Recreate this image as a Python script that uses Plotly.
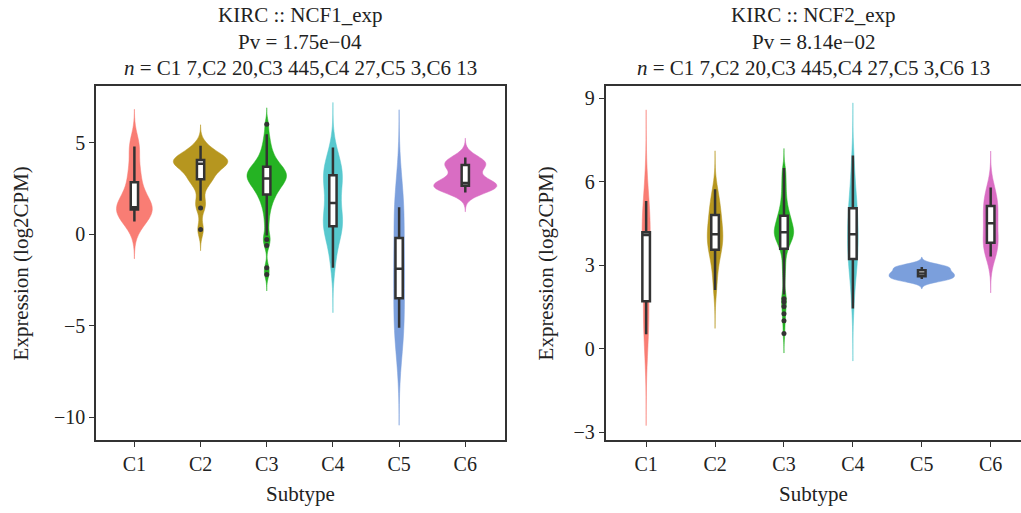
import numpy as np
import plotly.graph_objects as go

categories = ["C1", "C2", "C3", "C4", "C5", "C6"]
n_counts = [7, 20, 445, 27, 3, 13]
colors = ["#F97D74", "#B6961F", "#25B323", "#57C8CE", "#7B9FDC", "#D96DC3"]

# NCF1 expression (log2CPM) per subtype (C3: representative sample of 445)
ncf1_c1 = [0.69, 1.30, 1.38, 1.47, 2.30, 3.36, 4.78]
ncf1_c2 = [0.25, 1.43, 1.83, 2.6, 2.95, 3.02, 3.2, 3.45, 3.65, 3.78, 3.9, 3.95, 3.98,
           4.0, 4.03, 4.08, 4.2, 4.4, 4.6, 4.82]
ncf1_c3 = [-2.2, -1.83, -0.62, -0.29, -0.07, 0.5, 0.95, 1.3, 1.55, 1.75, 1.92, 2.05, 2.17,
           2.28, 2.38, 2.47, 2.55, 2.62, 2.69, 2.76, 2.82, 2.88, 2.93, 2.98, 3.04, 3.09,
           3.14, 3.19, 3.24, 3.29, 3.34, 3.39, 3.45, 3.5, 3.56, 3.62, 3.68, 3.75, 3.83,
           3.92, 4.02, 4.13, 4.26, 4.42, 4.6, 4.82, 5.1, 5.45, 6.0]
ncf1_c4 = [-1.83, -1.2, -0.6, -0.2, 0.1, 0.3, 0.4, 0.46, 0.6, 0.75, 0.9, 1.1, 1.4, 1.7,
           2.0, 2.3, 2.6, 2.8, 3.0, 3.15, 3.29, 3.4, 3.55, 3.7, 3.9, 4.3, 4.73]
ncf1_c5 = [-5.11, -1.89, 1.47]
ncf1_c6 = [2.28, 2.45, 2.55, 2.64, 2.68, 2.72, 2.79, 3.1, 3.55, 3.77, 3.85, 3.95, 4.18]

# NCF2 expression (log2CPM) per subtype (C3: representative sample of 445)
ncf2_c1 = [0.52, 1.2, 2.22, 4.09, 4.12, 4.26, 5.31]
ncf2_c2 = [2.11, 2.6, 3.0, 3.3, 3.52, 3.58, 3.7, 3.85, 3.98, 4.08, 4.16, 4.25, 4.4, 4.6,
           4.78, 4.9, 5.05, 5.25, 5.45, 5.74]
ncf2_c3 = [0.55, 1.01, 1.26, 1.52, 1.69, 1.80, 1.95, 2.4, 2.75, 3.0, 3.25, 3.45, 3.6, 3.68,
           3.75, 3.82, 3.88, 3.93, 3.98, 4.03, 4.07, 4.11, 4.14, 4.17, 4.19, 4.23, 4.27,
           4.31, 4.36, 4.41, 4.46, 4.51, 4.56, 4.61, 4.66, 4.72, 4.78, 4.85, 4.93, 5.02,
           5.12, 5.24, 5.38, 5.54, 5.72, 5.9, 6.1, 6.3, 6.5]
ncf2_c4 = [1.45, 2.0, 2.4, 2.7, 2.9, 3.05, 3.18, 3.28, 3.45, 3.6, 3.75, 3.88, 4.0, 4.12,
           4.25, 4.4, 4.55, 4.7, 4.85, 4.98, 5.12, 5.3, 5.5, 5.75, 6.05, 6.45, 6.95]
ncf2_c5 = [2.51, 2.71, 2.94]
ncf2_c6 = [3.32, 3.5, 3.7, 3.81, 4.0, 4.3, 4.51, 4.7, 4.95, 5.13, 5.3, 5.55, 5.80]

panels = [
    dict(title="KIRC :: NCF1_exp", pv="Pv = 1.75e\u221204",
         groups=[ncf1_c1, ncf1_c2, ncf1_c3, ncf1_c4, ncf1_c5, ncf1_c6]),
    dict(title="KIRC :: NCF2_exp", pv="Pv = 8.14e\u221202",
         groups=[ncf2_c1, ncf2_c2, ncf2_c3, ncf2_c4, ncf2_c5, ncf2_c6]),
]

n_text = "<i>n</i> = " + ",".join(f"{c} {n}" for c, n in zip(categories, n_counts))

FONT = "Liberation Serif"
DARK = "#333333"
TXT = "#222222"


def bw_nrd0(v, n):
    v = np.asarray(v, float)
    sd = np.std(v, ddof=1)
    q75, q25 = np.percentile(v, [75, 25])
    lo = min(sd, (q75 - q25) / 1.34)
    if lo <= 0:
        lo = sd
    return 0.9 * lo * n ** -0.2


def kde_max(v, bw):
    v = np.asarray(v, float)
    g = np.linspace(v.min() - 3 * bw, v.max() + 3 * bw, 512)
    d = np.exp(-0.5 * ((g[:, None] - v[None, :]) / bw) ** 2).sum(1) / (len(v) * bw * np.sqrt(2 * np.pi))
    return d.max()


fig = go.Figure()

for p_i, panel in enumerate(panels):
    xa = "x" if p_i == 0 else "x2"
    ya = "y" if p_i == 0 else "y2"
    bws = [bw_nrd0(g, n) for g, n in zip(panel["groups"], n_counts)]
    maxd = [kde_max(g, b) for g, b in zip(panel["groups"], bws)]
    top = max(maxd)
    for cat, vals, col, bw, md in zip(categories, panel["groups"], colors, bws, maxd):
        v = np.asarray(vals, float)
        fig.add_trace(go.Violin(
            x=[cat] * len(v), y=v, xaxis=xa, yaxis=ya,
            fillcolor=col, line=dict(color=col, width=0.5), opacity=1,
            bandwidth=bw, spanmode="manual", span=[v.min() - 3 * bw, v.max() + 3 * bw],
            scalemode="width", width=0.95 * md / top,
            points=False, box_visible=False, meanline_visible=False,
            showlegend=False, hoverinfo="skip"))
        q1, med, q3 = np.percentile(v, [25, 50, 75])
        iqr = q3 - q1
        inside = v[(v >= q1 - 1.5 * iqr) & (v <= q3 + 1.5 * iqr)]
        lf, uf = inside.min(), inside.max()
        fig.add_trace(go.Box(
            x=[cat], q1=[q1], median=[med], q3=[q3], lowerfence=[lf], upperfence=[uf],
            xaxis=xa, yaxis=ya, width=0.11, fillcolor="white",
            line=dict(color=DARK, width=2.5), whiskerwidth=0, boxpoints=False,
            showlegend=False, hoverinfo="skip"))
        out = v[(v < lf) | (v > uf)]
        if len(out):
            fig.add_trace(go.Scatter(
                x=[cat] * len(out), y=out, xaxis=xa, yaxis=ya, mode="markers",
                marker=dict(color=DARK, size=5), showlegend=False, hoverinfo="skip"))

W, H = 1021, 513
dom1 = [96 / W, 505 / W]
dom2 = [605.5 / W, 1.0]
ydom = [1 - 442.5 / H, 1 - 87 / H]

axis_common = dict(showline=True, linecolor=DARK, linewidth=1.5, ticks="outside",
                   ticklen=5, tickcolor=DARK, tickwidth=1, showgrid=False, zeroline=False,
                   tickfont=dict(family=FONT, size=20, color=TXT))

fig.update_layout(
    width=W, height=H, margin=dict(l=0, r=0, t=0, b=0),
    paper_bgcolor="white", plot_bgcolor="white",
    violinmode="overlay", boxmode="overlay",
    font=dict(family=FONT, color=TXT),
    xaxis=dict(domain=dom1, anchor="y", type="category", categoryorder="array",
               categoryarray=categories, range=[-0.58, 5.6], mirror=True, **axis_common),
    yaxis=dict(domain=ydom, anchor="x", range=[-11.23, 8.06], tickvals=[-10, -5, 0, 5],
               ticktext=["\u221210", "\u22125", "0", "5"], mirror=True, **axis_common),
    xaxis2=dict(domain=dom2, anchor="y2", type="category", categoryorder="array",
                categoryarray=categories, range=[-0.59, 5.44], mirror=True, **axis_common),
    yaxis2=dict(domain=ydom, anchor="x2", range=[-3.275, 9.43], tickvals=[-3, 0, 3, 6, 9],
                ticktext=["\u22123", "0", "3", "6", "9"], **axis_common),
)

ann = []
centers = [300, 813]
for p_i, panel in enumerate(panels):
    cx = centers[p_i] / W
    for txt, yy in [(panel["title"], 15), (panel["pv"], 42), (n_text, 68)]:
        ann.append(dict(text=txt, x=cx, y=1 - yy / H, xref="paper", yref="paper",
                        showarrow=False, xanchor="center", yanchor="middle",
                        font=dict(family=FONT, size=21, color=TXT)))
    ann.append(dict(text="Subtype", x=[300.5, 813][p_i] / W, y=1 - 497 / H, xref="paper",
                    yref="paper", showarrow=False, xanchor="center", yanchor="middle",
                    font=dict(family=FONT, size=21, color=TXT)))
    ann.append(dict(text="Expression (log2CPM)", x=[21, 546][p_i] / W, y=1 - 265 / H,
                    xref="paper", yref="paper", showarrow=False, textangle=-90,
                    xanchor="center", yanchor="middle",
                    font=dict(family=FONT, size=21, color=TXT)))
fig.update_layout(annotations=ann)

fig.write_html("out.html")
